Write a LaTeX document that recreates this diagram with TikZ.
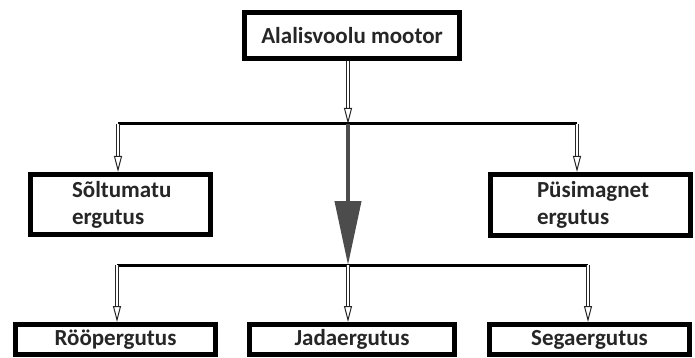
\documentclass[tikz,border=0pt]{standalone}
\usepackage{fontspec}
\setmainfont{Carlito}
\usetikzlibrary{arrows.meta}
\begin{document}
\begin{tikzpicture}[x=1pt,y=-1pt,
  box/.style={draw=black, line width=5pt, fill=white, inner sep=0pt,
    font=\bfseries\fontsize{23}{27}\selectfont, text=black!85},
  hline/.style={line width=3pt, draw=black},
  hollow/.style={double=white, double distance=2.4pt, line width=1pt, draw=black!85,
    -{Triangle[open,length=16pt,width=8pt,line width=1pt]}},
  thick arrow/.style={line width=4pt, draw=black!70,
    -{Triangle[length=64pt,width=26pt,fill=black!70]}}
]
\useasboundingbox (0,0) rectangle (695,358);
\node[box, minimum width=215pt, minimum height=46pt] (top) at (352,35.5) {Alalisvoolu mootor};
\node[box, minimum width=180pt, minimum height=60pt, text width=97pt, align=left] (solt) at (120.5,204.5) {Sõltumatu\\ergutus};
\node[box, minimum width=200pt, minimum height=61pt, text width=107pt, align=left] (pusi) at (590.5,205) {Püsimagnet\\ergutus};
\node[box, minimum width=200pt, minimum height=30pt] (roop) at (115.5,339.5) {Rööpergutus};
\node[box, minimum width=205pt, minimum height=30pt] (jada) at (352,339.5) {Jadaergutus};
\node[box, minimum width=200pt, minimum height=30pt] (sega) at (589.5,339.5) {Segaergutus};
\coordinate (j1) at (348,124);
\coordinate (j2) at (348,265);
\coordinate (l1) at (118,124);
\coordinate (r1) at (577,124);
\coordinate (l2) at (117,265);
\coordinate (r2) at (588,265);
\draw[hline] (l1) -- (r1);
\draw[hline] (l2) -- (r2);
\draw[hollow] (top.south -| j1) -- (j1);
\draw[hollow] (l1) -- (l1 |- solt.north);
\draw[hollow] (r1) -- (r1 |- pusi.north);
\draw[thick arrow] (j1) -- (j2);
\draw[hollow] (l2) -- (l2 |- roop.north);
\draw[hollow] (j2) -- (j2 |- jada.north);
\draw[hollow] (r2) -- (r2 |- sega.north);
\end{tikzpicture}
\end{document}
